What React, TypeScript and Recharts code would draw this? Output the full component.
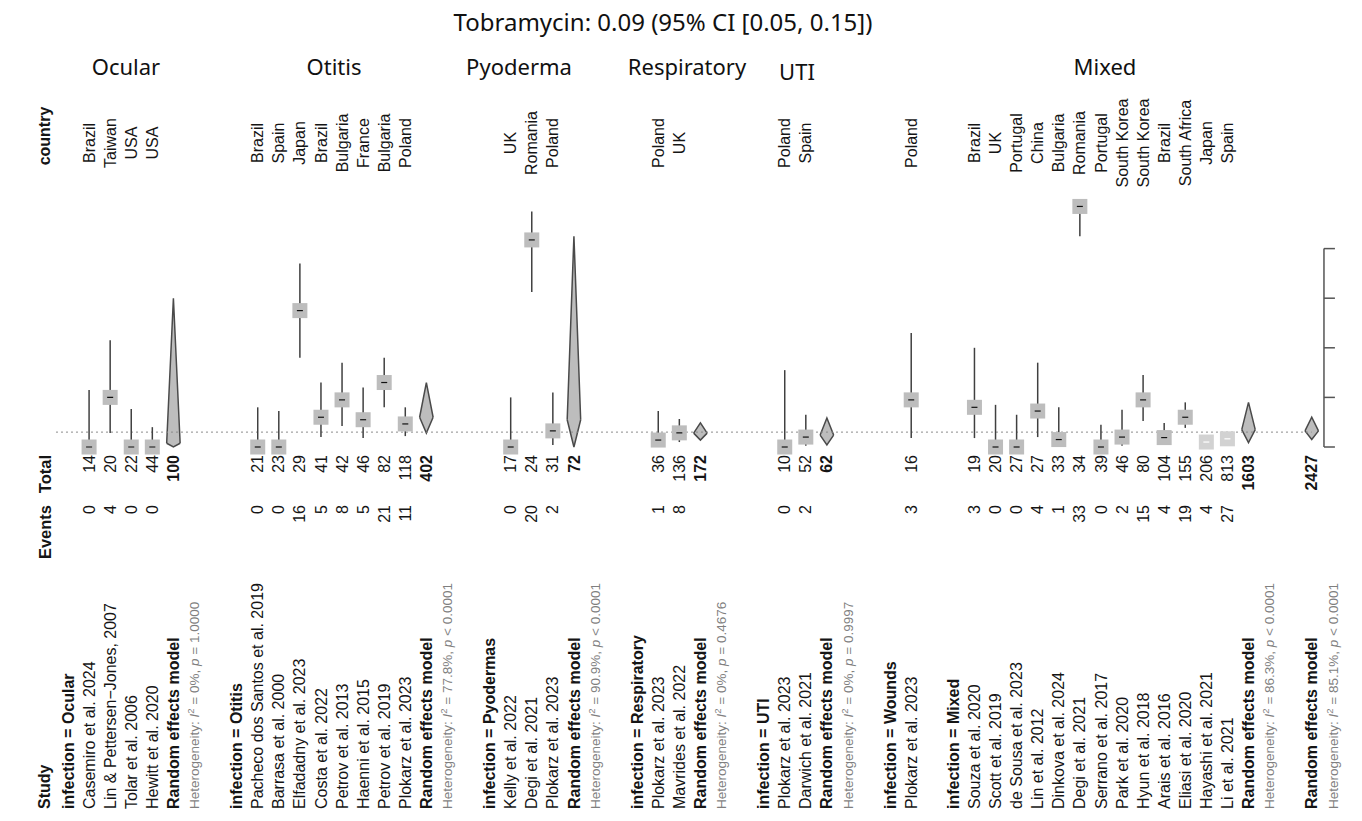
import React from 'react';
import { ComposedChart, Scatter, Area, XAxis, YAxis, ErrorBar, ReferenceLine } from 'recharts';

// ---------------- data ----------------
const chartTitle = 'Tobramycin: 0.09 (95% CI [0.05, 0.15])';
const panelTitles = ['Ocular', 'Otitis', 'Pyoderma', 'Respiratory', 'UTI', 'Mixed'];
const groups = ['Ocular', 'Otitis', 'Pyodermas', 'Respiratory', 'UTI', 'Wounds', 'Mixed'];
const columnHeads = ['Study', 'Events', 'Total', 'country'];

const studies = [
  'Casemiro et al. 2024', 'Lin & Pettersen\u2212Jones, 2007', 'Tolar et al. 2006', 'Hewitt et al. 2020',
  'Pacheco dos Santos et al. 2019', 'Barrasa et al. 2000', 'Elfadadny et al. 2023', 'Costa et al. 2022',
  'Petrov et al. 2013', 'Haenni et al. 2015', 'Petrov et al. 2019', 'Plokarz et al. 2023',
  'Kelly et al. 2022', 'Degi et al. 2021', 'Plokarz et al. 2023',
  'Plokarz et al. 2023', 'Mavrides et al. 2022',
  'Plokarz et al. 2023', 'Darwich et al. 2021',
  'Plokarz et al. 2023',
  'Souza et al. 2020', 'Scott et al. 2019', 'de Sousa et al. 2023', 'Lin et al. 2012', 'Dinkova et al. 2024',
  'Degi et al. 2021', 'Serrano et al. 2017', 'Park et al. 2020', 'Hyun et al. 2018', 'Arais et al. 2016',
  'Eliasi et al. 2020', 'Hayashi et al. 2021', 'Li et al. 2021',
];
const studyGroup = [
  0, 0, 0, 0,
  1, 1, 1, 1, 1, 1, 1, 1,
  2, 2, 2,
  3, 3,
  4, 4,
  5,
  6, 6, 6, 6, 6, 6, 6, 6, 6, 6, 6, 6, 6,
];
const countries = [
  'Brazil', 'Taiwan', 'USA', 'USA',
  'Brazil', 'Spain', 'Japan', 'Brazil', 'Bulgaria', 'France', 'Bulgaria', 'Poland',
  'UK', 'Romania', 'Poland',
  'Poland', 'UK',
  'Poland', 'Spain',
  'Poland',
  'Brazil', 'UK', 'Portugal', 'China', 'Bulgaria', 'Romania', 'Portugal', 'South Korea', 'South Korea',
  'Brazil', 'South Africa', 'Japan', 'Spain',
];
const events = [0, 4, 0, 0, 0, 0, 16, 5, 8, 5, 21, 11, 0, 20, 2, 1, 8, 0, 2, 3, 3, 0, 0, 4, 1, 33, 0, 2, 15, 4, 19, 4, 27];
const totals = [14, 20, 22, 44, 21, 23, 29, 41, 42, 46, 82, 118, 17, 24, 31, 36, 136, 10, 52, 16, 19, 20, 27, 27, 33, 34, 39, 46, 80, 104, 155, 206, 813];
const estimates = [
  0, 0.2, 0, 0,
  0, 0, 0.55, 0.12, 0.19, 0.11, 0.26, 0.093,
  0, 0.835, 0.065,
  0.028, 0.057,
  0, 0.04,
  0.19,
  0.16, 0, 0, 0.145, 0.03, 0.97, 0, 0.04, 0.19, 0.038, 0.12, 0.02, 0.033,
];
const lowerCI = [
  0, 0.056, 0, 0,
  0, 0, 0.36, 0.04, 0.085, 0.036, 0.16, 0.044,
  0, 0.625, 0.008,
  0, 0.02,
  0, 0.005,
  0.036,
  0.036, 0, 0, 0.04, 0, 0.85, 0, 0.005, 0.105, 0.01, 0.077, 0.005, 0.022,
];
const upperCI = [
  0.23, 0.43, 0.153, 0.08,
  0.16, 0.145, 0.74, 0.26, 0.34, 0.24, 0.36, 0.16,
  0.2, 0.95, 0.22,
  0.145, 0.113,
  0.31, 0.13,
  0.46,
  0.4, 0.17, 0.13, 0.34, 0.16, 1.0, 0.09, 0.15, 0.29, 0.097, 0.18, 0.05, 0.048,
];

const pooledLabels = ['Ocular', 'Otitis', 'Pyodermas', 'Respiratory', 'UTI', 'Mixed', 'Overall'];
const pooledTotals = [100, 402, 72, 172, 62, 1603, 2427];
const pooledEst = [0.015, 0.12, 0.11, 0.056, 0.048, 0.07, 0.065];
const pooledLower = [0, 0.056, 0, 0.028, 0.008, 0.018, 0.03];
const pooledUpper = [0.6, 0.26, 0.85, 0.097, 0.117, 0.18, 0.12];
const hetI2 = ['0%', '77.8%', '90.9%', '0%', '0%', '86.3%', '85.1%'];
const hetP = ['= 1.0000', '< 0.0001', '< 0.0001', '= 0.4676', '= 0.9997', '< 0.0001', '< 0.0001'];

const axisTicks = [0, 0.2, 0.4, 0.6, 0.8];
const overallReference = 0.06;

// ---------------- layout ----------------
const W = 1362;
const H = 821;
const ROW_DOMAIN: [number, number] = [-3, 61];
const VAL_DOMAIN: [number, number] = [-1.50806, 1.80242];
const MARGIN = { top: 0, bottom: 0, left: 4.76, right: 8.1 };
const STUDY_Y = 809;
const EVENTS_Y = 505;
const TOTAL_Y = 455;
const COUNTRY_Y = 143;
const COUNTRY_HEAD_Y = 136;
const HEAD_ROW = -1.1;
const AXIS_ROW = 59.58;
const TICK_ROW = 60.1;
const DOT_START = -0.57;
const DOT_END = 59;
const DIAMOND_HALF = 0.32;
const SQUARE = 15;
const PANEL_X = [126, 334, 519, 687, 797, 1105];
const PANEL_Y = [75, 75, 75, 75, 80, 75];
const FONT = "'Liberation Sans', Arial, Helvetica, sans-serif";
const TITLE_FONT = "'Noto Sans', 'Open Sans', sans-serif";

// ---------------- build rows ----------------
type TextRow = {
  row: number;
  y: number;
  kind: 'header' | 'study' | 'pooled' | 'het' | 'colhead';
  label: string;
  events?: string;
  total?: string;
  country?: string;
  i2?: string;
  p?: string;
};
type StudyPoint = { row: number; y: number; err: [number, number]; inside: boolean };
type Diamond = { key: string; pts: { row: number; v: [number, number] }[] };

const textRows: TextRow[] = [];
const studyPoints: StudyPoint[] = [];
const diamonds: Diamond[] = [];

const addPooled = (pi: number, row: number) => {
  textRows.push({ row, y: 0, kind: 'pooled', label: 'Random effects model', total: String(pooledTotals[pi]) });
  textRows.push({ row: row + 1, y: 0, kind: 'het', label: '', i2: hetI2[pi], p: hetP[pi] });
  const e = pooledEst[pi];
  diamonds.push({
    key: pooledLabels[pi],
    pts: [
      { row: row - DIAMOND_HALF, v: [e, e] },
      { row, v: [pooledLower[pi], pooledUpper[pi]] },
      { row: row + DIAMOND_HALF, v: [e, e] },
    ],
  });
};

let r = 0;
groups.forEach((g, gi) => {
  textRows.push({ row: r, y: 0, kind: 'header', label: `infection = ${g}` });
  r++;
  const idx = studies.map((_, i) => i).filter((i) => studyGroup[i] === gi);
  idx.forEach((i) => {
    textRows.push({
      row: r, y: 0, kind: 'study', label: studies[i],
      events: String(events[i]), total: String(totals[i]), country: countries[i],
    });
    studyPoints.push({
      row: r,
      y: estimates[i],
      err: [estimates[i] - lowerCI[i], upperCI[i] - estimates[i]],
      inside: upperCI[i] - lowerCI[i] < 0.06,
    });
    r++;
  });
  if (idx.length > 1) {
    addPooled(pooledLabels.indexOf(g), r);
    r += 2;
  }
  r++;
});
addPooled(pooledLabels.indexOf('Overall'), r);

columnHeads.forEach((h) => textRows.push({ row: HEAD_ROW, y: 0, kind: 'colhead', label: h }));

const normalPoints = studyPoints.filter((p) => !p.inside);
const insidePoints = studyPoints.filter((p) => p.inside);

// ---------------- shapes ----------------
const VText = (props: any) => {
  const { x, y, anchor, size = 16, weight = 'normal', fill = '#151515', children } = props;
  return (
    <text
      x={x}
      y={y}
      dy="0.35em"
      transform={`rotate(-90 ${x} ${y})`}
      textAnchor={anchor}
      fontSize={size}
      fontWeight={weight}
      fill={fill}
      fontFamily={FONT}
    >
      {children}
    </text>
  );
};

const TextShape = (props: any) => {
  const { cx, payload } = props;
  const d: TextRow = payload;
  if (cx == null) return null;
  if (d.kind === 'colhead') {
    if (d.label === 'Study') return <VText x={cx} y={STUDY_Y} anchor="start" weight="bold">{d.label}</VText>;
    if (d.label === 'Events') return <VText x={cx} y={EVENTS_Y} anchor="end" weight="bold" size={16.5}>{d.label}</VText>;
    if (d.label === 'Total') return <VText x={cx} y={TOTAL_Y} anchor="end" weight="bold" size={16.5}>{d.label}</VText>;
    return <VText x={cx} y={COUNTRY_HEAD_Y} anchor="middle" weight="bold">{d.label}</VText>;
  }
  if (d.kind === 'het') {
    return (
      <text
        x={cx}
        y={STUDY_Y}
        dy="0.35em"
        transform={`rotate(-90 ${cx} ${STUDY_Y})`}
        fontSize={13.5}
        fill="#7f7f7f"
        fontFamily={FONT}
      >
        <tspan>Heterogeneity: </tspan>
        <tspan fontStyle="italic">I</tspan>
        <tspan dy={-5} fontSize={9.5}>2</tspan>
        <tspan dy={5}>{` = ${d.i2}, `}</tspan>
        <tspan fontStyle="italic">p</tspan>
        <tspan>{` ${d.p}`}</tspan>
      </text>
    );
  }
  const bold = d.kind === 'header' || d.kind === 'pooled';
  return (
    <g>
      <VText x={cx} y={STUDY_Y} anchor="start" weight={bold ? 'bold' : 'normal'}>{d.label}</VText>
      {d.events != null && <VText x={cx} y={EVENTS_Y} anchor="end">{d.events}</VText>}
      {d.total != null && (
        <VText x={cx} y={TOTAL_Y} anchor="end" weight={d.kind === 'pooled' ? 'bold' : 'normal'}>{d.total}</VText>
      )}
      {d.country != null && <VText x={cx} y={COUNTRY_Y} anchor="middle">{d.country}</VText>}
    </g>
  );
};

const SquareShape = (fill: string) => (props: any) => {
  const { cx, cy } = props;
  if (cx == null || cy == null) return null;
  return <rect x={cx - SQUARE / 2} y={cy - SQUARE / 2} width={SQUARE} height={SQUARE} fill={fill} />;
};

const DashShape = (color: string) => (props: any) => {
  const { cx, cy } = props;
  if (cx == null || cy == null) return null;
  return <line x1={cx - 3} x2={cx + 3} y1={cy} y2={cy} stroke={color} strokeWidth={1.2} />;
};

// ---------------- component ----------------
export default function App() {
  return (
    <div style={{ position: 'absolute', left: 0, top: 0, width: W, height: H, background: '#fff' }}>
      <ComposedChart width={W} height={H} margin={MARGIN}>
        <XAxis type="number" dataKey="row" domain={ROW_DOMAIN} hide allowDataOverflow />
        <YAxis type="number" domain={VAL_DOMAIN} hide allowDataOverflow />

        <ReferenceLine
          segment={[{ x: DOT_START, y: overallReference }, { x: DOT_END, y: overallReference }]}
          stroke="#8a8a8a"
          strokeWidth={1}
          strokeDasharray="2 3"
        />
        <ReferenceLine
          segment={[{ x: AXIS_ROW, y: axisTicks[0] }, { x: AXIS_ROW, y: axisTicks[axisTicks.length - 1] }]}
          stroke="#555"
          strokeWidth={1.5}
        />
        {axisTicks.map((t) => (
          <ReferenceLine
            key={`tick-${t}`}
            segment={[{ x: AXIS_ROW, y: t }, { x: TICK_ROW, y: t }]}
            stroke="#555"
            strokeWidth={1.5}
          />
        ))}

        <Scatter data={normalPoints} dataKey="y" shape={SquareShape('#bdbdbd')} isAnimationActive={false} />
        <Scatter data={insidePoints} dataKey="y" shape={SquareShape('#d2d2d2')} isAnimationActive={false} />

        <Scatter data={normalPoints} dataKey="y" shape={DashShape('#111')} isAnimationActive={false}>
          <ErrorBar dataKey="err" direction="y" width={0} stroke="#404040" strokeWidth={1.5} isAnimationActive={false} />
        </Scatter>
        <Scatter data={insidePoints} dataKey="y" shape={DashShape('#ffffff')} isAnimationActive={false}>
          <ErrorBar dataKey="err" direction="y" width={0} stroke="#ffffff" strokeWidth={1.5} isAnimationActive={false} />
        </Scatter>

        {diamonds.map((dm) => (
          <Area
            key={dm.key}
            data={dm.pts}
            dataKey="v"
            type="linear"
            stroke="#4a4a4a"
            strokeWidth={1.5}
            fill="#bdbdbd"
            fillOpacity={1}
            dot={false}
            activeDot={false}
            isAnimationActive={false}
          />
        ))}

        <Scatter data={textRows} dataKey="y" shape={TextShape} isAnimationActive={false} />
      </ComposedChart>

      <svg
        width={W}
        height={H}
        style={{ position: 'absolute', left: 0, top: 0, pointerEvents: 'none' }}
      >
        <text x={663} y={31} textAnchor="middle" fontFamily={TITLE_FONT} fontSize={24} fill="#111">
          {chartTitle}
        </text>
        {panelTitles.map((t, i) => (
          <text
            key={t}
            x={PANEL_X[i]}
            y={PANEL_Y[i]}
            textAnchor="middle"
            fontFamily={TITLE_FONT}
            fontSize={22}
            fill="#111"
          >
            {t}
          </text>
        ))}
      </svg>
    </div>
  );
}
